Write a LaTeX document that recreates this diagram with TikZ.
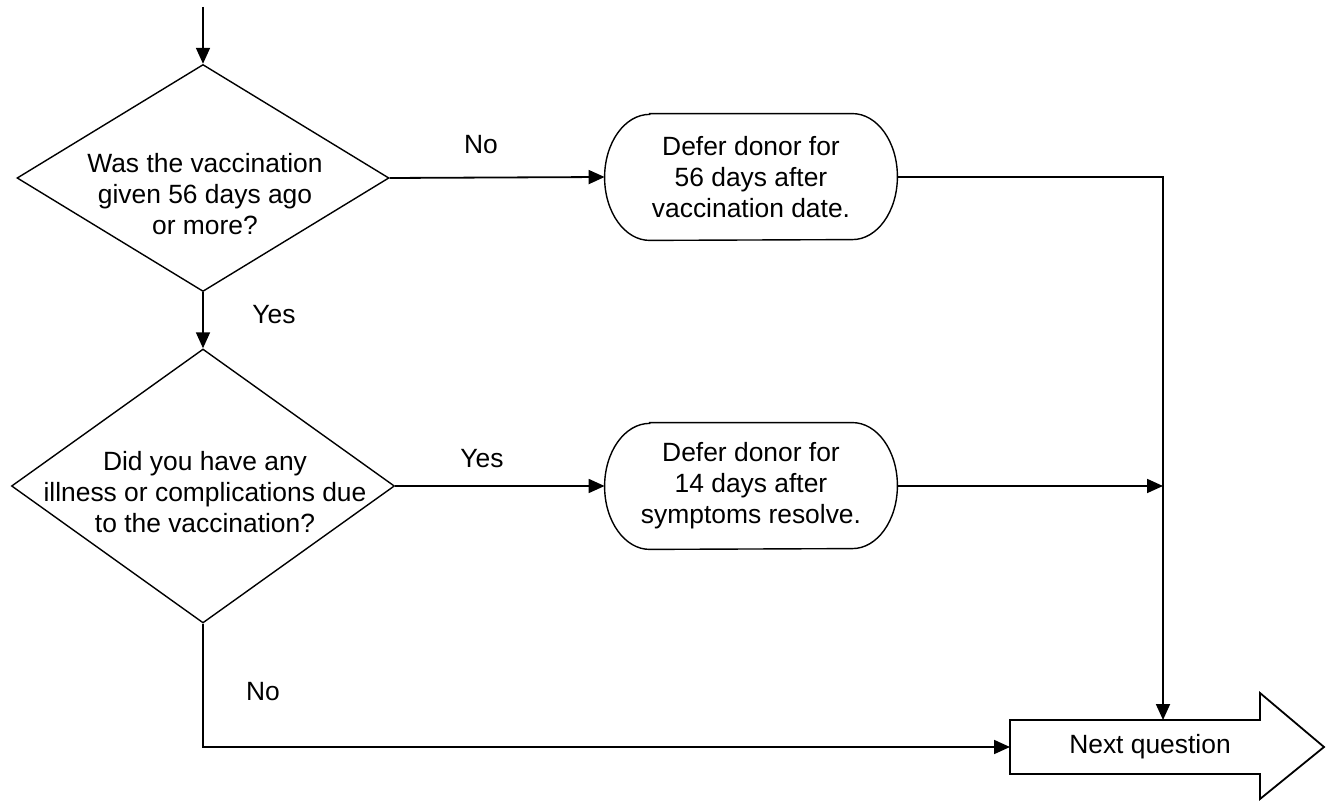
\documentclass[tikz,border=0pt]{standalone}
\usepackage{fontspec}
\setmainfont{Liberation Sans}
\usetikzlibrary{shapes.geometric,arrows.meta}
\newcommand\drawstadium[1]{%
  \draw[shapeline] ([xshift=22.5pt]#1.north west) -- ([xshift=-22.5pt]#1.north east)
    arc[start angle=90,end angle=-90,x radius=22.5pt,y radius=31.5pt]
    -- ([xshift=22.5pt]#1.south west)
    arc[start angle=270,end angle=90,x radius=22.5pt,y radius=31.5pt] -- cycle;}
\tikzset{
  txt/.style={font=\fontsize{13.2pt}{15.5pt}\selectfont, align=center, inner sep=0pt},
  shapeline/.style={draw=black, line width=0.7pt},
  decision/.style={diamond, shapeline, inner sep=0pt},
  stadium/.style={txt, minimum width=146pt, minimum height=63pt},
  conn/.style={draw=black, line width=0.9pt},
  arr/.style={conn, -{Triangle[length=8pt,width=7pt]}},
}
\begin{document}
\begin{tikzpicture}[x=0.5pt,y=-0.5pt]
\useasboundingbox (0,0) rectangle (1328,801);
\fill[white] (0,0) rectangle (1328,801);

% decisions
\node[decision, minimum width=186pt, minimum height=113.5pt] (d1) at (203,178) {};
\node[txt] (d1t) at (205,194) {Was the vaccination\\given 56 days ago\\or more?};
\node[decision, minimum width=191.5pt, minimum height=137pt] (d2) at (203,486) {};
\node[txt] (d2t) at (205,492) {Did you have any\\illness or complications due\\to the vaccination?};

% deferral boxes
\node[stadium] (b1) at (751,177) {Defer donor for\\56 days after\\vaccination date.};
\drawstadium{b1}
\node[stadium] (b2) at (751,486) {Defer donor for\\14 days after\\symptoms resolve.};
\drawstadium{b2}

% next question arrow
\coordinate (nqa) at (1010,720);
\coordinate (nqb) at (1260,720);
\coordinate (nqc) at (1260,693);
\coordinate (nqd) at (1324,747);
\coordinate (nqe) at (1260,799);
\coordinate (nqf) at (1260,774);
\coordinate (nqg) at (1010,774);
\draw[shapeline, line width=0.9pt, fill=white] (nqa) -- (nqb) -- (nqc) -- (nqd) -- (nqe) -- (nqf) -- (nqg) -- cycle;
\node[txt] (nq) at (1150,747) {Next question};
\coordinate (nqtop) at (1163,720);
\coordinate (nqleft) at (1010,747);

% connectors
\coordinate (start) at (203,7);
\draw[arr] (start) -- (d1.north);
\draw[arr] (d1.east) -- (b1.west);
\draw[arr] (d1.south) -- (d2.north);
\draw[arr] (d2.east) -- (b2.west);
\coordinate (c1) at (1163,177);
\draw[arr] (b1.east) -- (c1) -- (nqtop);
\coordinate (c2) at (1163,486);
\draw[arr] (b2.east) -- (c2);
\coordinate (c3) at (203,747);
\draw[arr] (d2.south) -- (c3) -- (nqleft);

% labels
\node[txt] (lno1) at (481,145) {No};
\node[txt] (lyes1) at (274,315) {Yes};
\node[txt] (lyes2) at (482,459) {Yes};
\node[txt] (lno2) at (263,692) {No};
\end{tikzpicture}
\end{document}
